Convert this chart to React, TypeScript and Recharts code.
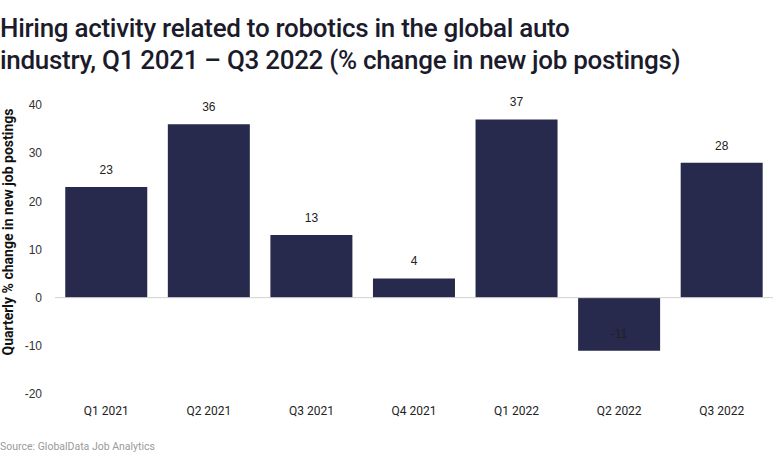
import React from 'react';
import { BarChart, Bar, XAxis, YAxis, ReferenceLine, LabelList } from 'recharts';

const quarters = ['Q1 2021', 'Q2 2021', 'Q3 2021', 'Q4 2021', 'Q1 2022', 'Q2 2022', 'Q3 2022'];
const changes = [23, 36, 13, 4, 37, -11, 28];
const yTicks = [-20, -10, 0, 10, 20, 30, 40];

const data = quarters.map((q, i) => ({ quarter: q, value: changes[i] }));

const FONT = 'Roboto, "Liberation Sans", Arial, sans-serif';
const BAR = '#27294d';

function ValueLabel(props: any) {
  const { x, y, width, height, value } = props;
  const cx = x + width / 2;
  const top = Math.min(y, y + height);
  const bottom = Math.max(y, y + height);
  // negative bars: label sits inside, near the far end
  const ty = value >= 0 ? top - 17 : bottom - 17;
  return (
    <text x={cx} y={ty} textAnchor="middle" dominantBaseline="central" fontSize={12} fill="#222" fontFamily='"Liberation Sans", Arial, sans-serif'>
      {value}
    </text>
  );
}

export default function App() {
  return (
    <div style={{ position: 'absolute', top: 0, left: 0, width: 773, height: 469, background: '#fff', fontFamily: FONT }}>
      <div style={{ position: 'absolute', left: 0, top: 12, fontSize: 26, lineHeight: '32px', color: '#1b1b2b', fontWeight: 500, letterSpacing: -0.3 }}>
        Hiring activity related to robotics in the global auto
        <br />
        industry, Q1 2021 – Q3 2022 (% change in new job postings)
      </div>
      <div
        style={{
          position: 'absolute',
          left: 8,
          top: 232,
          transform: 'translate(-50%, -50%) rotate(-90deg)',
          whiteSpace: 'nowrap',
          fontSize: 14,
          fontWeight: 700,
          color: '#111',
        }}
      >
        Quarterly % change in new job postings
      </div>
      <BarChart
        width={773}
        height={469}
        data={data}
        margin={{ top: 105, right: 0, bottom: 45, left: 10 }}
        barCategoryGap="10%"
      >
        <XAxis
          dataKey="quarter"
          axisLine={false}
          tickLine={false}
          tickSize={0}
          tickMargin={12}
          height={30}
          tick={{ fontSize: 12, fill: '#222', fontFamily: FONT }}
        />
        <YAxis
          domain={[-20, 40]}
          ticks={yTicks}
          axisLine={false}
          tickLine={false}
          tickSize={0}
          tickMargin={13}
          width={45}
          tick={{ fontSize: 12, fill: '#333', fontFamily: '"Liberation Sans", Arial, sans-serif' }}
        />
        <ReferenceLine y={0} stroke="#d0d0d0" strokeWidth={1} />
        <Bar dataKey="value" fill={BAR} isAnimationActive={false}>
          <LabelList dataKey="value" content={ValueLabel} />
        </Bar>
      </BarChart>
      <div style={{ position: 'absolute', left: 0, top: 440, fontSize: 10.5, color: '#9a9a9a' }}>
        Source: GlobalData Job Analytics
      </div>
    </div>
  );
}
